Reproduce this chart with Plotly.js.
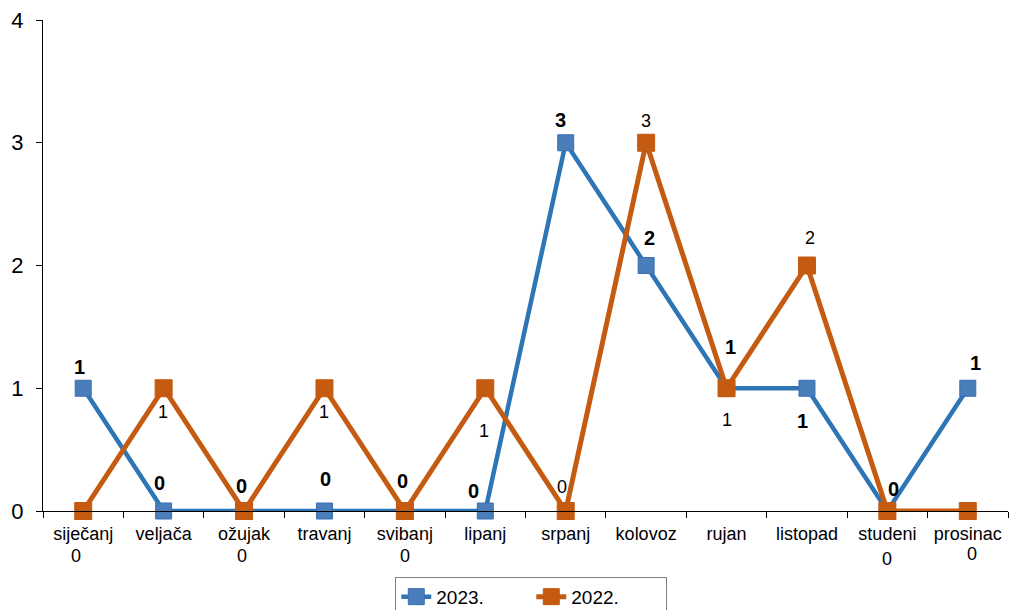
<!DOCTYPE html>
<html><head><meta charset="utf-8">
<script src="https://cdn.plot.ly/plotly-3.0.1.min.js"></script>
<style>html,body{margin:0;padding:0;background:#fff}#chart{width:1009px;height:610px}</style>
</head><body><div id="chart"></div>
<script>
const months = ['siječanj','veljača','ožujak','travanj','svibanj','lipanj','srpanj','kolovoz','rujan','listopad','studeni','prosinac'];
const values2023 = [1,0,0,0,0,0,3,2,1,1,0,1];
const values2022 = [0,1,0,1,0,1,0,3,1,2,0,0];
const seriesNames = ['2023.','2022.'];

// label offsets (layout only): [xshift, yshift]
const off2023 = [[-4,21],[-4,28],[-3,25],[1,32],[-2,30],[-12,20],[-5,23],[3,28],[4,41],[-4,-33],[6,22],[8,25]];
const off2022 = [[-7,-45],[-1,-24],[-2,-45],[0,-24],[0,-45],[-1,-43],[-4,24],[0,22],[0,-32],[3,28],[0,-48],[4,-43]];

const blue = '#2E75B6', orange = '#C55A11';
const traces = [
  {x: months, y: values2023, name: seriesNames[0], type:'scatter', mode:'lines+markers', cliponaxis:false,
   line:{color:blue, width:4.5}, marker:{symbol:'square', size:16, color:'#4A7EBB', line:{color:'#3C6EB0', width:1}}},
  {x: months, y: values2022, name: seriesNames[1], type:'scatter', mode:'lines+markers', cliponaxis:false,
   line:{color:orange, width:5}, marker:{symbol:'square', size:17, color:orange, line:{color:orange, width:1}}}
];
const annotations = [];
months.forEach((m,i)=>{
  annotations.push({x:m, y:values2023[i], xref:'x', yref:'y', text:String(values2023[i]), showarrow:false,
    xshift:off2023[i][0], yshift:off2023[i][1], font:{family:'Liberation Sans, Arial, sans-serif', size:20, color:'#000', weight:'bold'}});
  annotations.push({x:m, y:values2022[i], xref:'x', yref:'y', text:String(values2022[i]), showarrow:false,
    xshift:off2022[i][0], yshift:off2022[i][1], font:{family:'Liberation Sans, Arial, sans-serif', size:18, color:'#000'}});
});
const layout = {
  width:1009, height:610, margin:{l:43, r:1, t:20, b:99, autoexpand:false},
  paper_bgcolor:'#fff', plot_bgcolor:'#fff',
  font:{family:'Liberation Sans, Arial, sans-serif', color:'#000'},
  showlegend:true,
  legend:{orientation:'h', x:0.506, xanchor:'center', y:-0.134, yanchor:'top', bordercolor:'#7f7f7f', borderwidth:1,
    font:{size:19, color:'#000'}, entrywidth:90, entrywidthmode:'pixels', tracegroupgap:0},
  xaxis:{type:'category', range:[-0.5,11.5], showline:true, linecolor:'#000', linewidth:1, ticks:'outside', tickson:'boundaries',
    ticklen:6, tickcolor:'#000', showgrid:false, zeroline:false, tickfont:{size:18}, ticklabelstandoff:6, fixedrange:true},
  yaxis:{range:[0,4], dtick:1, showline:true, linecolor:'#000', linewidth:1, ticks:'outside', ticklen:6, tickcolor:'#000',
    showgrid:false, zeroline:false, tickfont:{size:22}, ticklabelstandoff:8},
  annotations: annotations
};
Plotly.newPlot('chart', traces, layout, {displayModeBar:false, staticPlot:true});
</script></body></html>
